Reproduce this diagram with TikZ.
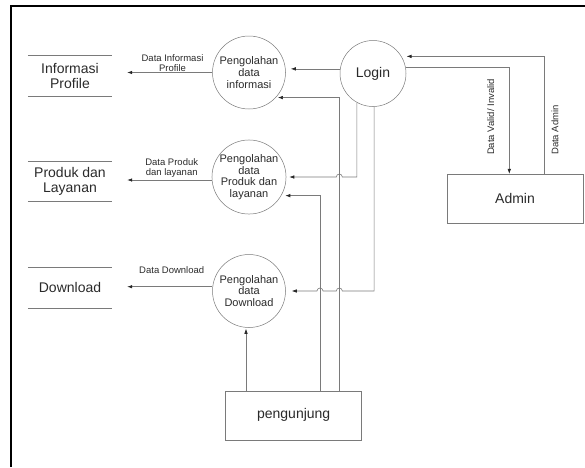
\documentclass[tikz,border=0pt]{standalone}
\usepackage{fontspec}
\setmainfont{Liberation Sans}
\usetikzlibrary{arrows.meta,calc}
\definecolor{linegray}{HTML}{7A7A7A}
\definecolor{txtgray}{HTML}{2A2A2A}
\tikzset{
  proc/.style={circle, draw=linegray, line width=0.5pt, minimum size=73pt, inner sep=0pt,
    align=center, text=txtgray, font=\fontsize{11}{11.7}\selectfont},
  store/.style={rectangle, minimum width=84pt, minimum height=40pt, inner sep=0pt,
    align=center, text=txtgray, font=\fontsize{14}{14.5}\selectfont},
  storeline/.style={draw=linegray, line width=0.8pt},
  entity/.style={rectangle, draw=linegray, line width=0.6pt, inner sep=0pt,
    text=txtgray, font=\fontsize{14}{15}\selectfont},
  flow/.style={draw=linegray, line width=0.6pt,
    -{Latex[length=5pt,width=3.5pt,color=black!85]}},
  flowlbl/.style={text=txtgray, align=center, inner sep=0pt,
    font=\fontsize{9.5}{10}\selectfont},
}
\begin{document}
\begin{tikzpicture}[x=1pt,y=-1pt]
\useasboundingbox (0,0) rectangle (585,467);
% frame
\draw[line width=2.3pt] (11.2,467) -- (11.2,6.2) -- (585,6.2);

% data stores
\node[store] (s1) at (70,76) {Informasi\\Profile};
\node[store] (s2) at (70,181.3) {Produk dan\\Layanan};
\node[store] (s3) at (70,287.7) {Download};
\foreach \s in {s1,s2,s3}{
  \draw[storeline] (\s.north west) -- (\s.north east);
  \draw[storeline] (\s.south west) -- (\s.south east);
}

% processes
\node[proc] (c1) at (249,72.5) {Pengolahan\\data\\informasi};
\node[proc] (c2) at (249,177) {Pengolahan\\data\\Produk dan\\layanan};
\node[proc] (c3) at (249,291) {Pengolahan\\data\\Download};
\node[proc, minimum size=66pt, font=\fontsize{14}{15}\selectfont] (login) at (373,73.5) {Login};

% entities
\node[entity, minimum width=136pt, minimum height=49pt] (admin) at (515,198.7) {Admin};
\node[entity, minimum width=136pt, minimum height=49pt] (peng) at (293.7,415.3) {pengunjung};

% helper x positions of vertical lines
\coordinate (va) at (320,0);
\coordinate (vb) at (339.3,0);
\coordinate (vadm1) at (509.3,0);
\coordinate (vadm2) at (544,0);

% processes -> stores
\draw[flow] (c1.west) -- ([xshift=15pt]c1.west -| s1.east);
\draw[flow] ([yshift=-3pt]c2.west) -- ([xshift=15pt,yshift=-3pt]c2.west -| s2.east);
\draw[flow] ([yshift=4.3pt]c3.west) -- ([xshift=15pt,yshift=4.3pt]c3.west -| s3.east);
\node[flowlbl] (l1) at (172.5,63) {Data Informasi\\Profile};
\node[flowlbl] (l2) at (171.7,168.3) {Data Produk\\dan layanan};
\node[flowlbl] (l3) at (171.7,270) {Data Download};

% Login -> c1
\draw[flow, shorten >=5pt] (login.172) -- (login.172 -| c1.east);

% pengunjung -> c1, c2
\draw[flow, shorten >=2pt] (vb |- peng.north) |- (c1.-43);
\draw[flow, shorten >=4pt] (va |- peng.north) |- (c2.-30);

% Login -> c2 (with hop over vb)
\draw[flow, shorten >=3pt] (login.-119) -- (login.-119 |- c2.east)
  -- ([xshift=3pt]vb |- c2.east) arc[start angle=0,end angle=180,radius=3pt]
  -- (c2.east);

% Login -> c3 (with hops over vb and va)
\draw[flow, shorten >=6pt] (login.-88) -- (login.-88 |- c3.east)
  -- ([xshift=3pt]vb |- c3.east) arc[start angle=0,end angle=180,radius=3pt]
  -- ([xshift=3pt]va |- c3.east) arc[start angle=0,end angle=180,radius=3pt]
  -- (c3.east);

% pengunjung -> c3
\draw[flow, shorten >=1pt] ([xshift=-3pt]peng.north -| c3.south) -- ([xshift=-3pt]c3.south);

% Login <-> Admin
\draw[flow] (login.10) -| (vadm1 |- admin.north);
\draw[flow, shorten >=5pt] (vadm2 |- admin.north) |- (login.31);
\node[flowlbl, rotate=90] (lv) at (490.7,117) {Data Valid/ Invalid};
\node[flowlbl, rotate=90] (la) at (555,130) {Data Admin};
\end{tikzpicture}
\end{document}
